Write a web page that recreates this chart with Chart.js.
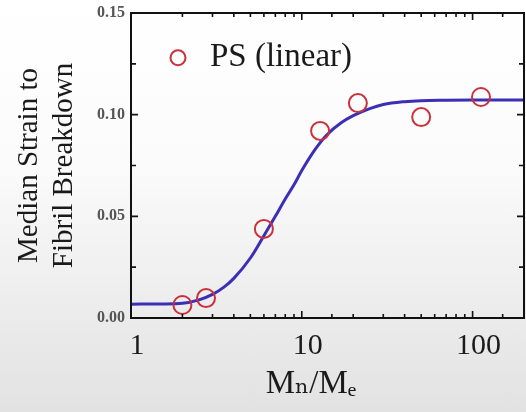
<!DOCTYPE html>
<html>
<head>
<meta charset="utf-8">
<script src="https://cdn.jsdelivr.net/npm/chart.js@4.4.1/dist/chart.umd.min.js"></script>
<style>
  html, body { margin: 0; padding: 0; }
  body { width: 526px; height: 412px; overflow: hidden;
         background: linear-gradient(to bottom, #ffffff 0%, #fbfbfb 40%, #ececec 75%, #e2e2e2 100%); }
  #wrap { position: relative; width: 526px; height: 412px; }
</style>
</head>
<body>
<div id="wrap"><canvas id="c" width="526" height="412"></canvas></div>
<script>
// Measured data (PS linear)
const molRatio   = [2.0, 2.75, 6.0, 12.8, 21.3, 50, 112];
const medStrain  = [0.0064, 0.0098, 0.0438, 0.092, 0.1057, 0.0988, 0.1087];
// Fitted curve
const fitX = [1, 1.5, 2, 2.5, 3, 3.5, 4, 5, 6, 7, 8, 9, 10, 12, 14, 17, 20, 25, 30, 40, 50, 70, 100, 200];
const fitY = [0.0068, 0.0069, 0.0072, 0.0089, 0.0116, 0.0152, 0.0195, 0.0295, 0.0405, 0.0500, 0.0585, 0.0655, 0.0725, 0.0830, 0.0900, 0.0960, 0.0995, 0.1030, 0.1050, 0.1064, 0.1069, 0.1071, 0.1072, 0.1072];
const xMajorLabels = [1, 10, 100];
const yLabelStep = 0.05;
const seriesLabel = 'PS (linear)';
const yTitle = ['Median Strain to', 'Fibril Breakdown'];
const xTitle = 'M\u2099/M\u2091    ';

const serif = "'Liberation Serif', 'DejaVu Serif', serif";

const frame = {
  id: 'frame',
  afterDraw(chart) {
    const {ctx, chartArea: a, scales: {x, y}} = chart;
    ctx.save();
    ctx.strokeStyle = '#111';
    ctx.lineWidth = 2;
    ctx.strokeRect(a.left, a.top, a.right - a.left, a.bottom - a.top);
    ctx.lineWidth = 1.6;
    x.ticks.forEach(t => {
      const px = x.getPixelForValue(t.value);
      if (px < a.left + 1 || px > a.right - 1) return;
      const major = xMajorLabels.includes(t.value);
      const len = major ? 7 : 4;
      ctx.beginPath();
      ctx.moveTo(px, a.bottom); ctx.lineTo(px, a.bottom - len);
      ctx.moveTo(px, a.top); ctx.lineTo(px, a.top + len);
      ctx.stroke();
    });
    y.ticks.forEach(t => {
      const py = y.getPixelForValue(t.value);
      if (py < a.top + 1 || py > a.bottom - 1) return;
      const major = Math.abs(t.value / yLabelStep - Math.round(t.value / yLabelStep)) < 1e-6;
      const len = major ? 7 : 5;
      ctx.beginPath();
      ctx.moveTo(a.left, py); ctx.lineTo(a.left + len, py);
      ctx.moveTo(a.right, py); ctx.lineTo(a.right - len, py);
      ctx.stroke();
    });
    // inner legend
    const ds = chart.data.datasets[0];
    const lx = a.left + 47, ly = y.getPixelForValue(0.1280);
    ctx.strokeStyle = ds.borderColor;
    ctx.lineWidth = 2;
    ctx.beginPath(); ctx.arc(lx, ly, 7.5, 0, Math.PI * 2); ctx.stroke();
    ctx.fillStyle = '#1a1a1a';
    ctx.font = "33px " + serif;
    ctx.textBaseline = 'middle';
    ctx.textAlign = 'left';
    ctx.fillText(ds.label, lx + 32, ly);
    ctx.restore();
  }
};

new Chart(document.getElementById('c'), {
  data: {
    datasets: [
      {
        type: 'scatter',
        label: seriesLabel,
        data: molRatio.map((v, i) => ({x: v, y: medStrain[i]})),
        borderColor: '#c8323c',
        backgroundColor: 'rgba(0,0,0,0)',
        borderWidth: 2,
        pointRadius: 9,
        pointHoverRadius: 9,
        order: 1
      },
      {
        type: 'line',
        label: 'fit',
        data: fitX.map((v, i) => ({x: v, y: fitY[i]})),
        borderColor: '#3b2fb5',
        borderWidth: 3,
        pointRadius: 0,
        cubicInterpolationMode: 'monotone',
        fill: false,
        order: 2
      }
    ]
  },
  options: {
    responsive: false,
    animation: false,
    layout: { autoPadding: false, padding: { top: 13, right: 2, left: 0, bottom: 0 } },
    plugins: { legend: { display: false }, tooltip: { enabled: false } },
    scales: {
      x: {
        type: 'logarithmic',
        min: 1, max: 200,
        grid: { display: false, drawTicks: false },
        border: { display: false },
        ticks: {
          autoSkip: false, maxRotation: 0, padding: 10, labelOffset: 6,
          color: '#1a1a1a',
          font: { family: serif, size: 30 },
          callback: (v) => xMajorLabels.includes(v) ? String(v) : ''
        },
        title: { display: true, text: xTitle, color: '#1a1a1a',
                 font: { family: serif, size: 33 }, padding: { top: 0, bottom: 8 } },
        afterFit(s) { s.height = 94; s.paddingLeft = 0; s.paddingRight = 0; }
      },
      y: {
        min: 0, max: 0.15,
        grid: { display: false, drawTicks: false },
        border: { display: false },
        ticks: {
          stepSize: 0.025, padding: 6,
          color: '#555',
          font: { family: serif, size: 16, weight: 'bold' },
          callback: (v) => Math.abs(v / yLabelStep - Math.round(v / yLabelStep)) < 1e-6 ? v.toFixed(2) : ''
        },
        title: { display: true, text: yTitle, color: '#1a1a1a',
                 font: { family: serif, size: 29, lineHeight: 1.2 }, padding: { top: 12, bottom: 0 } },
        afterFit(s) { s.width = 131; s.paddingTop = 0; s.paddingBottom = 0; }
      }
    }
  },
  plugins: [frame]
});
</script>
</body>
</html>
